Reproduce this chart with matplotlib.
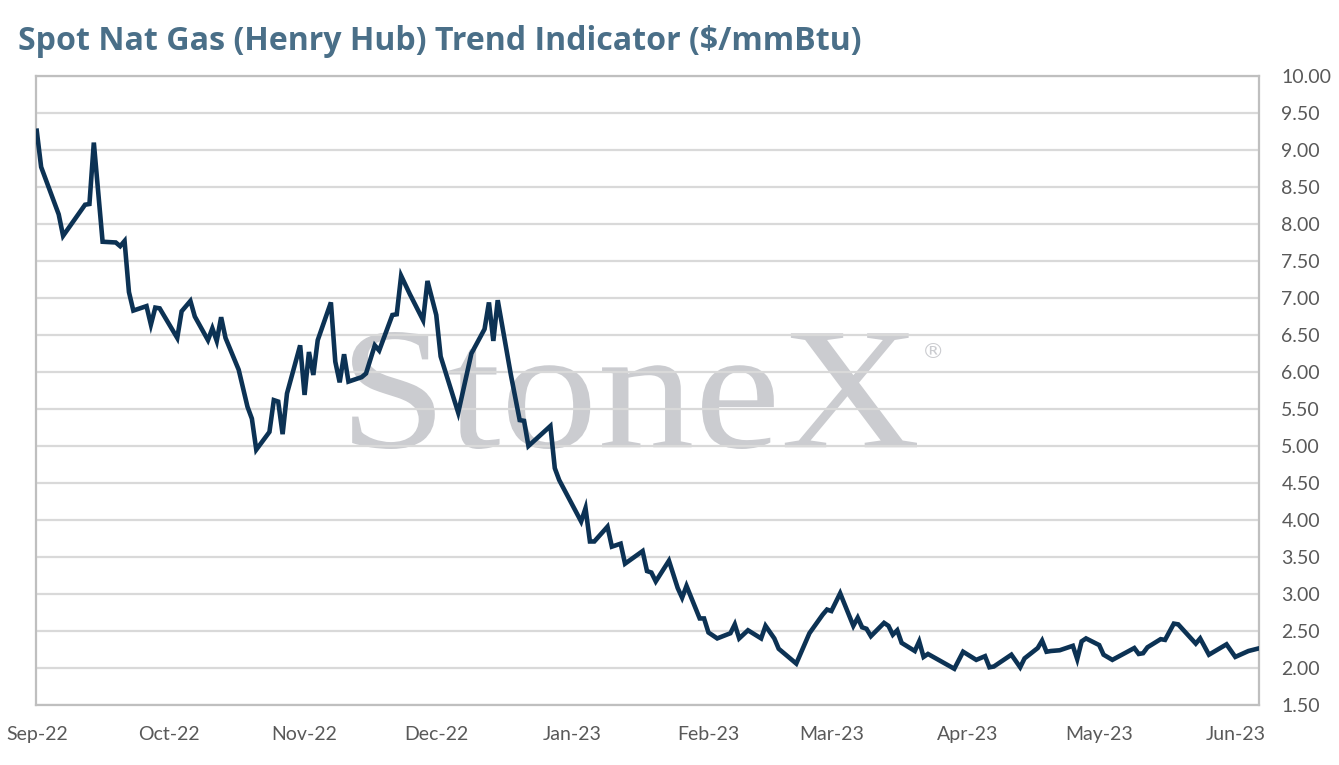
import numpy as np
import pandas as pd
import matplotlib
matplotlib.use("Agg")
import matplotlib.pyplot as plt
import matplotlib.dates as mdates
from matplotlib.textpath import TextPath
from matplotlib.patches import PathPatch
from matplotlib.font_manager import FontProperties
from matplotlib.transforms import Affine2D

# spot Henry Hub, $/mmBtu
dates = [
    "2022-09-01", "2022-09-02", "2022-09-06", "2022-09-07", "2022-09-12", "2022-09-13",
    "2022-09-14", "2022-09-16", "2022-09-19", "2022-09-20", "2022-09-21", "2022-09-22",
    "2022-09-23", "2022-09-26", "2022-09-27", "2022-09-28", "2022-09-29", "2022-10-03",
    "2022-10-04", "2022-10-06", "2022-10-07", "2022-10-10", "2022-10-11", "2022-10-12",
    "2022-10-13", "2022-10-14", "2022-10-17", "2022-10-19", "2022-10-20", "2022-10-21",
    "2022-10-24", "2022-10-25", "2022-10-26", "2022-10-27", "2022-10-28", "2022-10-31",
    "2022-11-01", "2022-11-02", "2022-11-03", "2022-11-04", "2022-11-07", "2022-11-08",
    "2022-11-09", "2022-11-10", "2022-11-11", "2022-11-14", "2022-11-15", "2022-11-17",
    "2022-11-18", "2022-11-21", "2022-11-22", "2022-11-23", "2022-11-25", "2022-11-28",
    "2022-11-29", "2022-12-01", "2022-12-02", "2022-12-06", "2022-12-09", "2022-12-12",
    "2022-12-13", "2022-12-14", "2022-12-15", "2022-12-18", "2022-12-20", "2022-12-21",
    "2022-12-22", "2022-12-27", "2022-12-28", "2022-12-29", "2023-01-03", "2023-01-04",
    "2023-01-05", "2023-01-06", "2023-01-09", "2023-01-10", "2023-01-12", "2023-01-13",
    "2023-01-17", "2023-01-18", "2023-01-19", "2023-01-20", "2023-01-23", "2023-01-25",
    "2023-01-26", "2023-01-27", "2023-01-30", "2023-01-31", "2023-02-01", "2023-02-03",
    "2023-02-06", "2023-02-07", "2023-02-08", "2023-02-10", "2023-02-13", "2023-02-14",
    "2023-02-16", "2023-02-17", "2023-02-21", "2023-02-24", "2023-02-27", "2023-02-28",
    "2023-03-01", "2023-03-03", "2023-03-06", "2023-03-07", "2023-03-08", "2023-03-09",
    "2023-03-10", "2023-03-13", "2023-03-14", "2023-03-15", "2023-03-16", "2023-03-17",
    "2023-03-20", "2023-03-21", "2023-03-22", "2023-03-23", "2023-03-26", "2023-03-29",
    "2023-03-31", "2023-04-03", "2023-04-05", "2023-04-06", "2023-04-07", "2023-04-11",
    "2023-04-13", "2023-04-14", "2023-04-17", "2023-04-18", "2023-04-19", "2023-04-20",
    "2023-04-22", "2023-04-25", "2023-04-26", "2023-04-27", "2023-04-28", "2023-05-01",
    "2023-05-02", "2023-05-04", "2023-05-09", "2023-05-10", "2023-05-11", "2023-05-12",
    "2023-05-15", "2023-05-16", "2023-05-18", "2023-05-19", "2023-05-23", "2023-05-24",
    "2023-05-26", "2023-05-30", "2023-06-01", "2023-06-04", "2023-06-06",
]
prices = [
    9.26, 8.77, 8.13, 7.84, 8.26, 8.27,
    9.10, 7.76, 7.75, 7.70, 7.77, 7.08,
    6.83, 6.89, 6.64, 6.87, 6.86, 6.46,
    6.82, 6.96, 6.75, 6.43, 6.59, 6.42,
    6.74, 6.46, 6.03, 5.53, 5.37, 4.95,
    5.19, 5.62, 5.60, 5.16, 5.71, 6.36,
    5.69, 6.27, 5.96, 6.43, 6.94, 6.14,
    5.86, 6.24, 5.87, 5.93, 5.98, 6.36,
    6.29, 6.77, 6.78, 7.30, 7.05, 6.70,
    7.23, 6.77, 6.21, 5.45, 6.25, 6.58,
    6.94, 6.42, 6.97, 5.96, 5.35, 5.34,
    5.00, 5.27, 4.70, 4.54, 3.98, 4.16,
    3.71, 3.71, 3.91, 3.64, 3.68, 3.41,
    3.58, 3.31, 3.29, 3.17, 3.45, 3.08,
    2.95, 3.11, 2.67, 2.67, 2.48, 2.40,
    2.47, 2.59, 2.40, 2.51, 2.40, 2.57,
    2.40, 2.26, 2.06, 2.47, 2.72, 2.79,
    2.77, 3.01, 2.57, 2.68, 2.55, 2.53,
    2.43, 2.61, 2.57, 2.45, 2.51, 2.34,
    2.23, 2.36, 2.15, 2.19, 2.09, 1.99,
    2.22, 2.11, 2.16, 2.01, 2.02, 2.18,
    2.01, 2.13, 2.27, 2.37, 2.22, 2.23,
    2.24, 2.30, 2.12, 2.36, 2.40, 2.31,
    2.18, 2.11, 2.27, 2.19, 2.20, 2.28,
    2.39, 2.38, 2.60, 2.59, 2.33, 2.40,
    2.18, 2.32, 2.15, 2.23, 2.26,
]
month_ticks = pd.date_range("2022-09-01", "2023-06-01", freq="MS")
y_ticks = np.arange(1.5, 10.01, 0.5)
title = "Spot Nat Gas (Henry Hub) Trend Indicator ($/mmBtu)"

title_col = "#4a6f88"
line_col = "#0c3254"
grid_col = "#d9d9d9"
text_col = "#595959"
mark_col = "#cbccd0"

fig = plt.figure(figsize=(13.39, 7.65), dpi=100)
ax = fig.add_axes([0.0269, 0.0784, 0.9134, 0.8223])

x = pd.to_datetime(dates)
ax.plot(x, prices, color=line_col, lw=3.3, solid_joinstyle="miter", zorder=3)

ax.set_xlim(pd.Timestamp("2022-08-31 20:00"), pd.Timestamp("2023-06-06 10:00"))
ax.set_ylim(1.5, 10.0)
ax.set_yticks(y_ticks)
ax.set_yticklabels([f"{v:.2f}" for v in y_ticks])
ax.yaxis.tick_right()
ax.set_xticks(month_ticks)
ax.xaxis.set_major_formatter(mdates.DateFormatter("%b-%y"))

ax.grid(axis="y", color=grid_col, lw=1.6)
ax.set_axisbelow(True)
ax.tick_params(length=0, labelsize=14, labelcolor=text_col)
ax.tick_params(axis="y", pad=16)
ax.tick_params(axis="x", pad=15)
for lab in ax.get_xticklabels() + ax.get_yticklabels():
    lab.set_fontfamily("Lato")

for s in ax.spines.values():
    s.set_color("#bfbfbf")
    s.set_linewidth(1.6)

# watermark, stretched to the box it fills in the reference (pixels)
tp = TextPath((0, 0), "StoneX", size=100, prop=FontProperties(family="Liberation Serif"))
ext = tp.get_extents()
x0, x1, y0, y1 = 352, 917, 765 - 449, 765 - 332
kx = (x1 - x0) / ext.width
ky = (y1 - y0) / ext.height
tr = Affine2D().translate(-ext.x0, -ext.y0).scale(kx, ky).translate(x0, y0)
ax.add_patch(PathPatch(tr.transform_path(tp), facecolor=mark_col, edgecolor="none",
                       transform=None, zorder=0.2))
fig.text(933 / 1339, 1 - 352 / 765, "\u00ae", ha="center", va="center",
         fontsize=16, family="DejaVu Sans", color=mark_col)

t = fig.text(18 / 1339, 1 - 41 / 765, title, fontsize=20, fontweight="bold",
             family="Open Sans", color=title_col, ha="left", va="center")
fig.canvas.draw()
w = t.get_window_extent().width
t.set_fontsize(20 * 844 / w)

fig.savefig("out.png", dpi=100, facecolor="white")
